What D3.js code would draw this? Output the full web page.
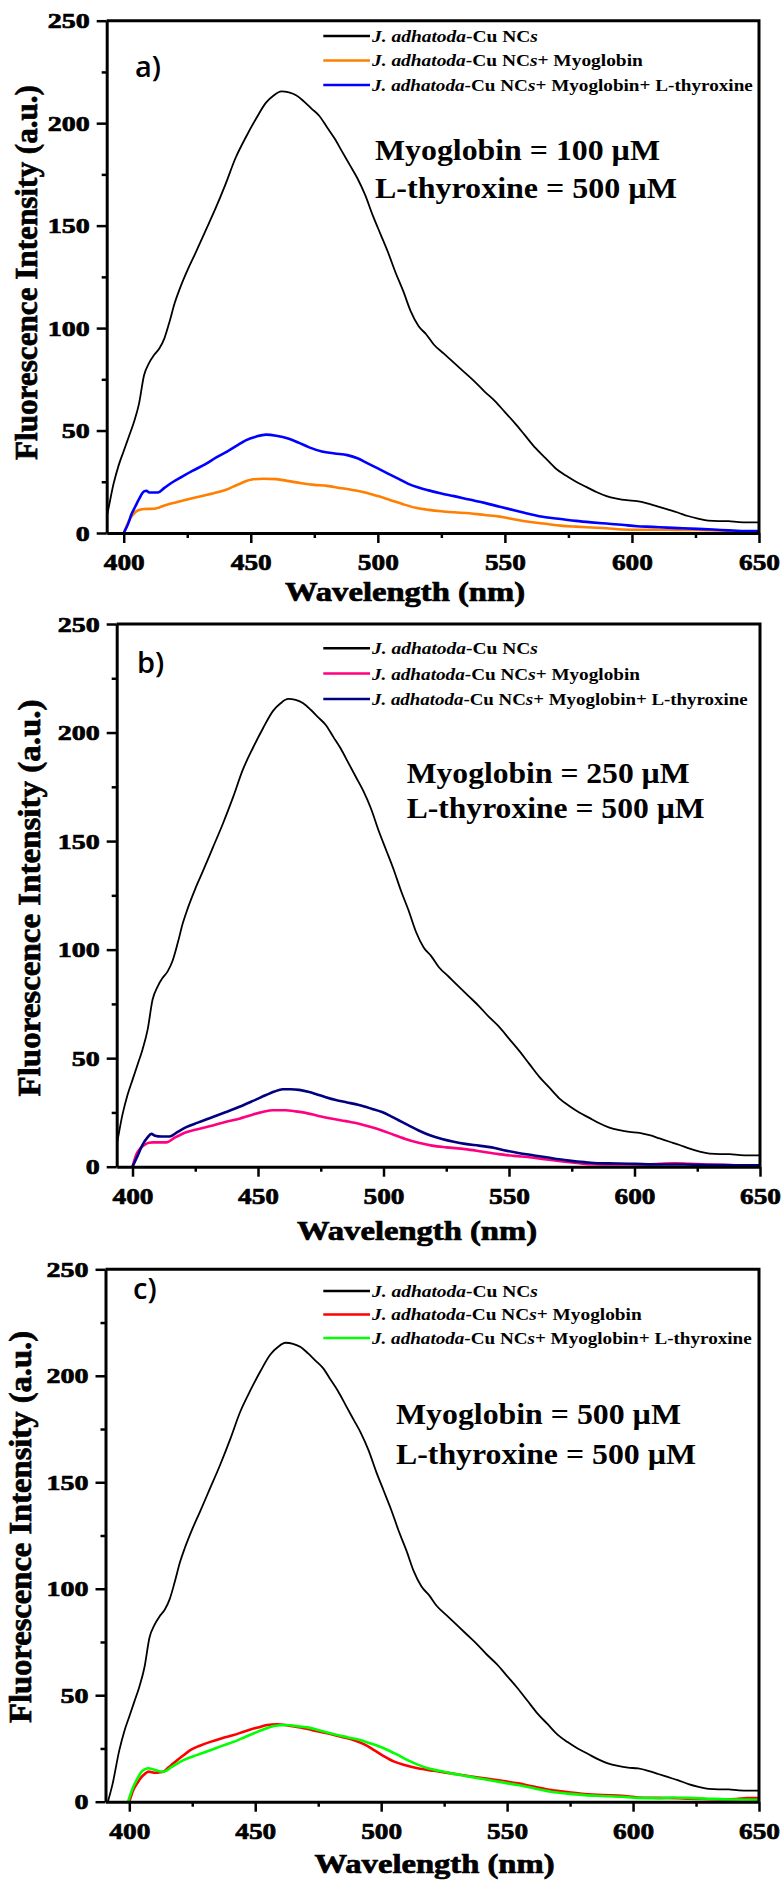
<!DOCTYPE html>
<html>
<head>
<meta charset="utf-8">
<script src="https://cdn.jsdelivr.net/npm/d3@7"></script>
<style>
  body { margin: 0; background: #fff; }
  svg { display: block; }
  .serif { font-family: "Liberation Serif", "Times New Roman", serif; font-weight: bold; }
  .heavy { stroke: #000; stroke-width: 0.7px; }
</style>
</head>
<body>
<svg id="chart" width="782" height="1881"></svg>
<script>
// ---- data ----
var xTicks = [400, 450, 500, 550, 600, 650];
var xMinorTicks = [425, 475, 525, 575, 625];
var yTicks = [0, 50, 100, 150, 200, 250];
var yMinorTicks = [25, 75, 125, 175, 225];

// J. adhatoda-Cu NCs (same spectrum in all three panels)
var cuWl = [391.5, 393.3, 396, 398, 400, 402, 404, 406, 408, 410, 412, 414, 416, 418, 420, 422, 425, 428, 432, 436,
  440, 444, 448, 452, 456, 459, 462, 465, 468, 471, 474, 477, 480, 483, 486, 489, 492, 495, 498, 501,
  504, 507, 510, 513, 516, 519, 522, 526, 530, 534, 538, 542, 546, 550, 554, 558, 562, 566, 570, 574,
  578, 582, 586, 590, 594, 598, 602, 606, 610, 614, 618, 622, 626, 630, 634, 638, 642, 646, 650];
var cuInt = [0, 8, 24, 33, 40, 47, 54, 63, 77, 83, 87, 90, 95, 103, 112, 119, 128, 136, 147, 158,
  170, 183, 193, 202, 210, 213.5, 215.5, 215, 213.5, 210.5, 207, 203.5, 198, 192.5, 186, 179.5, 173, 165, 155, 146,
  137, 127, 118, 108, 101, 97, 92, 87.5, 83, 78.5, 74, 69, 64.5, 59, 53.5, 47.5, 41.5, 36.5, 31.5, 28,
  25, 22.5, 20, 18, 16.8, 16, 15.6, 14.5, 13, 11.5, 10, 8.3, 7, 6, 5.8, 5.8, 5.3, 5.2, 5.2];

// a) + Myoglobin 100 uM
var myoAWl = [400, 401, 402.5, 404, 405.5, 408, 412, 414, 417, 420, 425, 430, 436, 440, 445, 450, 455, 460, 465, 470,
  475, 480, 485, 490, 495, 500, 505, 510, 515, 520, 525, 530, 536, 542, 548, 554, 560, 566, 572, 578,
  584, 590, 596, 602, 610, 618, 626, 634, 641, 650];
var myoAInt = [0, 3, 7, 9.5, 11, 11.7, 11.8, 12.5, 13.8, 14.8, 16.4, 17.8, 19.6, 21, 23.7, 26, 26.5, 26.3, 25.3, 24.3,
  23.5, 23, 22, 21, 19.8, 18, 16, 14, 12.3, 11.3, 10.6, 10.1, 9.6, 8.8, 8, 6.6, 5.4, 4.5, 3.6, 3.1,
  2.7, 2.3, 1.7, 1.6, 1.6, 1.5, 1.5, 1.2, 1, 0.5];
// a) + Myoglobin + L-thyroxine
var thyAWl = [400, 401.8, 403, 404.5, 406, 408, 409, 410, 413.5, 416, 419.5, 423, 427, 432, 436.6, 441, 445, 448, 452, 456,
  460, 465, 469, 473, 478, 483, 488, 492, 496, 500, 504, 508, 512, 516, 520, 525, 530, 536, 542, 548,
  554, 560, 566, 572, 578, 584, 590, 596, 602, 608, 614, 620, 626, 632, 638, 644, 650];
var thyAInt = [0, 4.7, 9, 12.8, 16.5, 20.3, 20.6, 19.8, 19.8, 22, 25, 27.5, 30.3, 33.5, 37, 40, 43, 45.2, 47, 48,
  47.5, 46, 44, 41.8, 39.8, 38.8, 38, 36.5, 34, 31.5, 29, 26.5, 24, 22.2, 20.8, 19.3, 18, 16.3, 14.7, 12.8,
  11, 9.2, 7.7, 6.8, 5.9, 5.2, 4.6, 4, 3.3, 3, 2.6, 2.3, 2, 1.7, 1.3, 1, 1];

// b) + Myoglobin 250 uM
var myoBWl = [400, 401.6, 403, 404.9, 406.5, 408.2, 413.5, 417, 421.4, 426, 432, 437, 442.6, 447, 451.8, 456, 461, 465, 469, 474,
  479.6, 485, 490.2, 495, 499.4, 504, 508.7, 514, 519.3, 525, 532.5, 539, 545.8, 552, 559, 565, 572.2, 578, 582.8, 590,
  600, 610, 616, 622, 630, 640, 650];
var myoBInt = [0, 5.8, 8.3, 10.1, 11, 11.2, 11.2, 13.5, 15.9, 17.3, 19, 20.6, 22.1, 23.7, 25.2, 26, 26, 25.5, 24.8, 23.4,
  22.1, 21, 19.8, 18.3, 16.7, 14.7, 12.8, 11, 9.7, 8.9, 8.1, 7, 5.8, 5, 4.2, 3.3, 2.3, 1.6, 1.1, 1,
  1, 1.3, 1.6, 1.3, 1, 0.7, 0.3];
// b) + Myoglobin + L-thyroxine
var thyBWl = [400, 402, 404.2, 406, 407.5, 409, 411.5, 414.8, 418, 421.4, 426, 432, 437, 442.6, 448, 453.2, 456.5, 459.8, 463, 466.4,
  470, 473, 477, 481, 485.5, 490.2, 495, 499.4, 503, 506, 510, 514, 518.5, 523.3, 528, 532.5, 538, 543.1, 548, 553.7,
  560, 565.6, 570, 574.8, 580, 585.4, 593.4, 600, 610, 620, 630, 640, 650];
var thyBInt = [0, 5, 10.5, 13.5, 15.1, 14.3, 13.9, 13.9, 16, 18.2, 20.3, 22.9, 25.1, 27.6, 30.3, 33, 34.6, 35.7, 35.7, 35.4,
  34.5, 33.5, 32, 30.7, 29.6, 28.4, 26.8, 25.2, 23.2, 21.4, 19, 16.7, 14.5, 12.8, 11.5, 10.5, 9.7, 8.9, 7.6, 6.3,
  5.2, 4.2, 3.4, 2.7, 2.1, 1.6, 1.5, 1.3, 1, 1, 0.8, 0.7, 0.6];

// c) + Myoglobin 500 uM
var myoCWl = [400, 401.6, 403.2, 404.9, 406.3, 407.6, 409, 410.2, 412, 413.5, 415.5, 417.5, 421, 424.2, 428, 432.2, 436.8, 441.4, 445, 448.1,
  451.5, 454.7, 458.7, 463, 468, 473, 478.6, 484, 489.3, 493.5, 497.2, 501, 505.2, 510, 514.5, 521, 527.8, 534.5, 541, 548,
  554.3, 561, 567.6, 574, 580.9, 588, 595.5, 602, 610, 618, 626, 635, 641, 645, 650];
var myoCInt = [0, 5.5, 8.8, 11.7, 13.2, 14.1, 13.8, 13.6, 13.8, 14.1, 16, 18, 21.3, 24.2, 26.3, 28.1, 29.8, 31.3, 32.7, 33.9,
  35, 36, 36.4, 35.8, 34.9, 33.5, 32.1, 30.5, 28.9, 26.8, 24.2, 21.4, 18.8, 17, 15.7, 14.5, 13.3, 12.1, 11, 9.8,
  8.6, 7, 5.5, 4.5, 3.6, 3.1, 2.8, 2, 1.8, 1.6, 1.3, 1.1, 1.2, 1.7, 1.7];
// c) + Myoglobin + L-thyroxine
var thyCWl = [399.5, 401.6, 403.2, 404.9, 406.3, 407.6, 409, 410.2, 413.5, 417, 421.5, 427, 432.2, 436.8, 441.4, 446, 450.8, 454, 457.4, 460,
  462.7, 466.5, 470.7, 476, 481.3, 486.5, 491.9, 496.5, 501.2, 506, 510.5, 514.5, 518.5, 523, 527.8, 534.5, 541, 547.5, 554.3, 561,
  567.6, 574, 580.9, 588, 595.5, 602, 610, 616, 622, 630, 640, 650];
var thyCInt = [0, 7, 10.8, 14.1, 15.3, 15.7, 15.3, 14.9, 14.1, 16.5, 19.5, 22, 24.2, 26.2, 28.1, 30.4, 32.8, 34.3, 35.5, 35.9,
  36, 35.5, 34.9, 33.3, 31.7, 30.3, 28.9, 27.1, 25, 22.3, 19.5, 17.4, 15.7, 14.5, 13.3, 11.9, 10.5, 9.2, 7.8, 6.2,
  4.7, 3.8, 3.1, 2.7, 2.3, 1.8, 1.6, 2, 1.8, 1.4, 1, 0.9];

var legendNames = ["-Cu NCs", "-Cu NCs+ Myoglobin", "-Cu NCs+ Myoglobin+ L-thyroxine"];
var myoglobinConc = ["100", "250", "500"];
var thyroxineConc = ["500", "500", "500"];
var panelLetters = ["a)", "b)", "c)"];

function zip(wl, val) {
  return wl.map(function (w, i) { return [w, val[i]]; });
}

// ---- layout for the three stacked panels ----
var panels = [
  { left: 106.7, right: 759, top: 20.7, bottom: 533, xMin: 393.3,
    colors: ["#000000", "#ff7f00", "#0000ff"],
    series: [zip(cuWl, cuInt), zip(myoAWl, myoAInt), zip(thyAWl, thyAInt)],
    legendY: 36, legendStep: 24.5, legendW: [166, 271, 381],
    noteX: 375, noteY: [160, 197.6], noteW: [285, 302],
    letterX: 135, letterY: 77,
    yTitleX: 37, yTitleY: 272.5, yTitleW: 375,
    xTitleX: 405, xTitleY: 601 },
  { left: 116.7, right: 760, top: 624, bottom: 1166.7, xMin: 393.7,
    colors: ["#000000", "#ff0080", "#000080"],
    series: [zip(cuWl, cuInt), zip(myoBWl, myoBInt), zip(thyBWl, thyBInt)],
    legendY: 648.3, legendStep: 25.3, legendW: [166, 268, 376],
    noteX: 406.7, noteY: [783.3, 818.3], noteW: [283, 298],
    letterX: 137, letterY: 673,
    yTitleX: 40, yTitleY: 898, yTitleW: 397,
    xTitleX: 417, xTitleY: 1240 },
  { left: 105.5, right: 759, top: 1269.3, bottom: 1801.7, xMin: 390.55,
    colors: ["#000000", "#ff0000", "#00ff00"],
    series: [zip(cuWl, cuInt), zip(myoCWl, myoCInt), zip(thyCWl, thyCInt)],
    legendY: 1291, legendStep: 23.5, legendW: [166, 270, 380],
    noteX: 396, noteY: [1424, 1464], noteW: [285, 300],
    letterX: 133, letterY: 1299,
    yTitleX: 31, yTitleY: 1527, yTitleW: 392,
    xTitleX: 434.5, xTitleY: 1873 }
];

var svg = d3.select("#chart");

// squeeze/stretch a text element horizontally to a given width
function fitWidth(sel, x, w) {
  var natural = sel.node().getComputedTextLength();
  var k = w / natural;
  sel.attr("transform", "translate(" + x + ",0) scale(" + k + ",1) translate(" + (-x) + ",0)");
}

panels.forEach(function (p, pi) {
  var x = d3.scaleLinear().domain([p.xMin, 650]).range([p.left, p.right]);
  var y = d3.scaleLinear().domain([0, 250]).range([p.bottom, p.top]);
  var g = svg.append("g");

  var clipId = "clip" + pi;
  svg.append("defs").append("clipPath").attr("id", clipId)
    .append("rect")
    .attr("x", p.left).attr("y", p.top)
    .attr("width", p.right - p.left).attr("height", p.bottom - p.top);

  // curves
  var line = d3.line()
    .x(function (d) { return x(d[0]); })
    .y(function (d) { return y(d[1]); })
    .curve(d3.curveMonotoneX);
  p.series.forEach(function (s, si) {
    g.append("path")
      .attr("d", line(s))
      .attr("clip-path", "url(#" + clipId + ")")
      .attr("fill", "none")
      .attr("stroke", p.colors[si])
      .attr("stroke-width", si == 0 ? 1.8 : 2.6)
      .attr("stroke-linejoin", "round");
  });

  // minor ticks
  g.append("g")
    .attr("transform", "translate(0," + p.bottom + ")")
    .call(d3.axisBottom(x).tickValues(xMinorTicks).tickSize(5).tickSizeOuter(0).tickFormat(""))
    .call(function (a) { a.select(".domain").remove(); a.selectAll("line").attr("stroke-width", 2.5); });
  g.append("g")
    .attr("transform", "translate(" + p.left + ",0)")
    .call(d3.axisLeft(y).tickValues(yMinorTicks).tickSize(5).tickSizeOuter(0).tickFormat(""))
    .call(function (a) { a.select(".domain").remove(); a.selectAll("line").attr("stroke-width", 2.5); });

  // major axes
  var xAxis = g.append("g")
    .attr("transform", "translate(0," + p.bottom + ")")
    .call(d3.axisBottom(x).tickValues(xTicks).tickSize(10).tickSizeOuter(0).tickPadding(10));
  xAxis.selectAll("text")
    .attr("class", "serif heavy")
    .attr("font-size", 24)
    .attr("textLength", 41)
    .attr("lengthAdjust", "spacingAndGlyphs");

  var yAxis = g.append("g")
    .attr("transform", "translate(" + p.left + ",0)")
    .call(d3.axisLeft(y).tickValues(yTicks).tickSize(10).tickSizeOuter(0).tickPadding(7));
  yAxis.selectAll("text")
    .attr("class", "serif heavy")
    .attr("font-size", 22)
    .attr("textLength", function (d) { return String(d).length * 14; })
    .attr("lengthAdjust", "spacingAndGlyphs");

  [xAxis, yAxis].forEach(function (a) {
    a.attr("font-family", null);
    a.select(".domain").attr("stroke-width", 3);
    a.selectAll("line").attr("stroke-width", 2.5);
  });

  // frame top + right
  g.append("path")
    .attr("d", "M" + p.left + "," + p.top + "H" + p.right + "V" + p.bottom)
    .attr("fill", "none")
    .attr("stroke", "#000")
    .attr("stroke-width", 3);

  // legend
  var legendX0 = 323.3, legendX1 = 370, legendTx = 372;
  legendNames.forEach(function (name, li) {
    var ly = p.legendY + li * p.legendStep;
    g.append("line")
      .attr("x1", legendX0).attr("x2", legendX1)
      .attr("y1", ly).attr("y2", ly)
      .attr("stroke", p.colors[li])
      .attr("stroke-width", 2.5);
    var t = g.append("text")
      .attr("class", "serif")
      .attr("x", legendTx)
      .attr("y", ly + 6)
      .attr("font-size", 17);
    t.append("tspan").attr("font-style", "italic").text("J. adhatoda");
    t.append("tspan").text(name.slice(0, 6));
    t.append("tspan").attr("font-style", "italic").text("s");
    t.append("tspan").text(name.slice(7));
    fitWidth(t, legendTx, p.legendW[li]);
  });

  // concentration note
  var notes = ["Myoglobin = " + myoglobinConc[pi] + " \u00b5M", "L-thyroxine = " + thyroxineConc[pi] + " \u00b5M"];
  notes.forEach(function (n, ni) {
    g.append("text")
      .attr("class", "serif")
      .attr("x", p.noteX)
      .attr("y", p.noteY[ni])
      .attr("font-size", 30)
      .attr("textLength", p.noteW[ni])
      .attr("lengthAdjust", "spacingAndGlyphs")
      .text(n);
  });

  // panel letter
  g.append("text")
    .attr("x", p.letterX)
    .attr("y", p.letterY)
    .attr("font-family", "'Open Sans', sans-serif")
    .attr("font-size", 29)
    .attr("font-weight", 600)
    .text(panelLetters[pi]);

  // axis titles
  g.append("text")
    .attr("class", "serif heavy")
    .attr("transform", "translate(" + p.yTitleX + "," + p.yTitleY + ") rotate(-90)")
    .attr("text-anchor", "middle")
    .attr("font-size", 31)
    .attr("textLength", p.yTitleW)
    .attr("lengthAdjust", "spacingAndGlyphs")
    .text("Fluorescence Intensity (a.u.)");

  g.append("text")
    .attr("class", "serif heavy")
    .attr("x", p.xTitleX)
    .attr("y", p.xTitleY)
    .attr("text-anchor", "middle")
    .attr("font-size", 27)
    .attr("textLength", 240)
    .attr("lengthAdjust", "spacingAndGlyphs")
    .text("Wavelength (nm)");
});
</script>
</body>
</html>
